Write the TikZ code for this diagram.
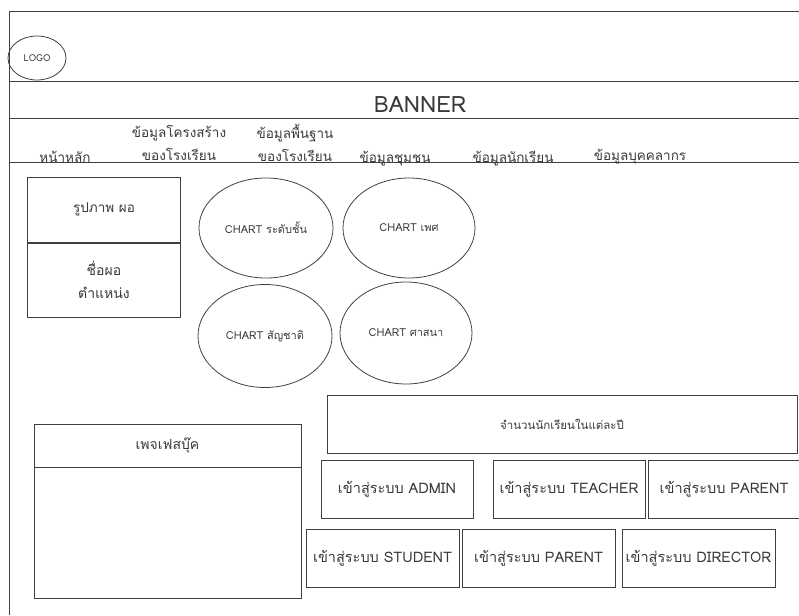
\documentclass[tikz,border=0pt]{standalone}
\usepackage{fontspec}
\setmainfont{Loma}[Script=Thai]
\usetikzlibrary{shapes.geometric}
\definecolor{ink}{HTML}{404040}
\definecolor{txt}{HTML}{3A3A3A}
\tikzset{
  box/.style={draw=ink, rectangle, inner sep=0pt, text=txt, font=\fontsize{14.5}{16}\selectfont},
  chart/.style={draw=ink, ellipse, inner sep=0pt, minimum width=134pt, minimum height=100pt, text=txt, font=\fontsize{11}{12}\selectfont},
  menu/.style={text=txt, align=center, font=\fontsize{13.5}{23}\selectfont}
}
\begin{document}
\begin{tikzpicture}[x=1pt,y=-1pt,line width=0.8pt]
        \useasboundingbox (0,0) rectangle (799,615);
        % frame and header bands
        \draw[ink] (799,11) -- (9,11) -- (9,615);
        \draw[ink] (9,81) -- (799,81);
        \draw[ink] (9,118) -- (799,118);
        \draw[ink] (9,162) -- (799,162);
        \node[draw=ink, ellipse, minimum width=58pt, minimum height=44pt, inner sep=0pt, text=txt, font=\fontsize{9.5}{10}\selectfont] (logo) at (37,58) {LOGO};
        \node[text=txt, font=\fontsize{22.5}{24}\selectfont] (banner) at (420,105) {BANNER};
        % menu
        \node[menu] (home) at (65,157) {หน้าหลัก};
        \node[menu] (struct) at (179,143) {ข้อมูลโครงสร้าง\\ของโรงเรียน};
        \node[menu] (basic) at (295,143) {ข้อมูลพื้นฐาน\\ของโรงเรียน};
        \node[menu] (community) at (395,159) {ข้อมูลชุมชน};
        \node[menu] (students) at (513,159) {ข้อมูลนักเรียน};
        \node[menu] (staff) at (640,157) {ข้อมูลบุคคลากร};
        % director card
        \node[box, minimum width=153pt, minimum height=65pt, font=\fontsize{13.5}{15}\selectfont] (photo) at (104,209.5) {รูปภาพ ผอ};
        \node[box, minimum width=153pt, minimum height=74pt, align=center, font=\fontsize{14}{23}\selectfont] (name) at (104,280) {ชื่อผอ\\ตำแหน่ง};
        % charts
        \node[chart] (level) at (266,228) {CHART ระดับชั้น};
        \node[chart, minimum width=132pt] (sex) at (409,228) {CHART เพศ};
        \node[chart, minimum height=103pt] (nation) at (265,336) {CHART สัญชาติ};
        \node[chart, minimum width=132pt, minimum height=102pt] (religion) at (406,333) {CHART ศาสนา};
        % facebook
        \node[box, minimum width=267pt, minimum height=43pt, font=\fontsize{14}{15}\selectfont] (fbhead) at (167.5,445.5) {เพจเฟสบุ๊ค};
        \node[box, minimum width=267pt, minimum height=131pt] (fbbody) at (167.5,532.5) {};
        % yearly count and logins
        \node[box, minimum width=470pt, minimum height=58pt, font=\fontsize{11.5}{12}\selectfont] (yearly) at (562,424) {จำนวนนักเรียนในแต่ละปี};
        \node[box, minimum width=152pt, minimum height=58pt] (admin) at (397,489) {เข้าสู่ระบบ ADMIN};
        \node[box, minimum width=152pt, minimum height=58pt] (teacher) at (569,489) {เข้าสู่ระบบ TEACHER};
        \node[box, minimum width=152pt, minimum height=58pt] (parentA) at (724,489) {เข้าสู่ระบบ PARENT};
        \node[box, minimum width=153pt, minimum height=58pt] (student) at (382.5,558) {เข้าสู่ระบบ STUDENT};
        \node[box, minimum width=153pt, minimum height=58pt] (parentB) at (538.5,558) {เข้าสู่ระบบ PARENT};
        \node[box, minimum width=153pt, minimum height=58pt] (director) at (698.5,558) {เข้าสู่ระบบ DIRECTOR};
\end{tikzpicture}
\end{document}
